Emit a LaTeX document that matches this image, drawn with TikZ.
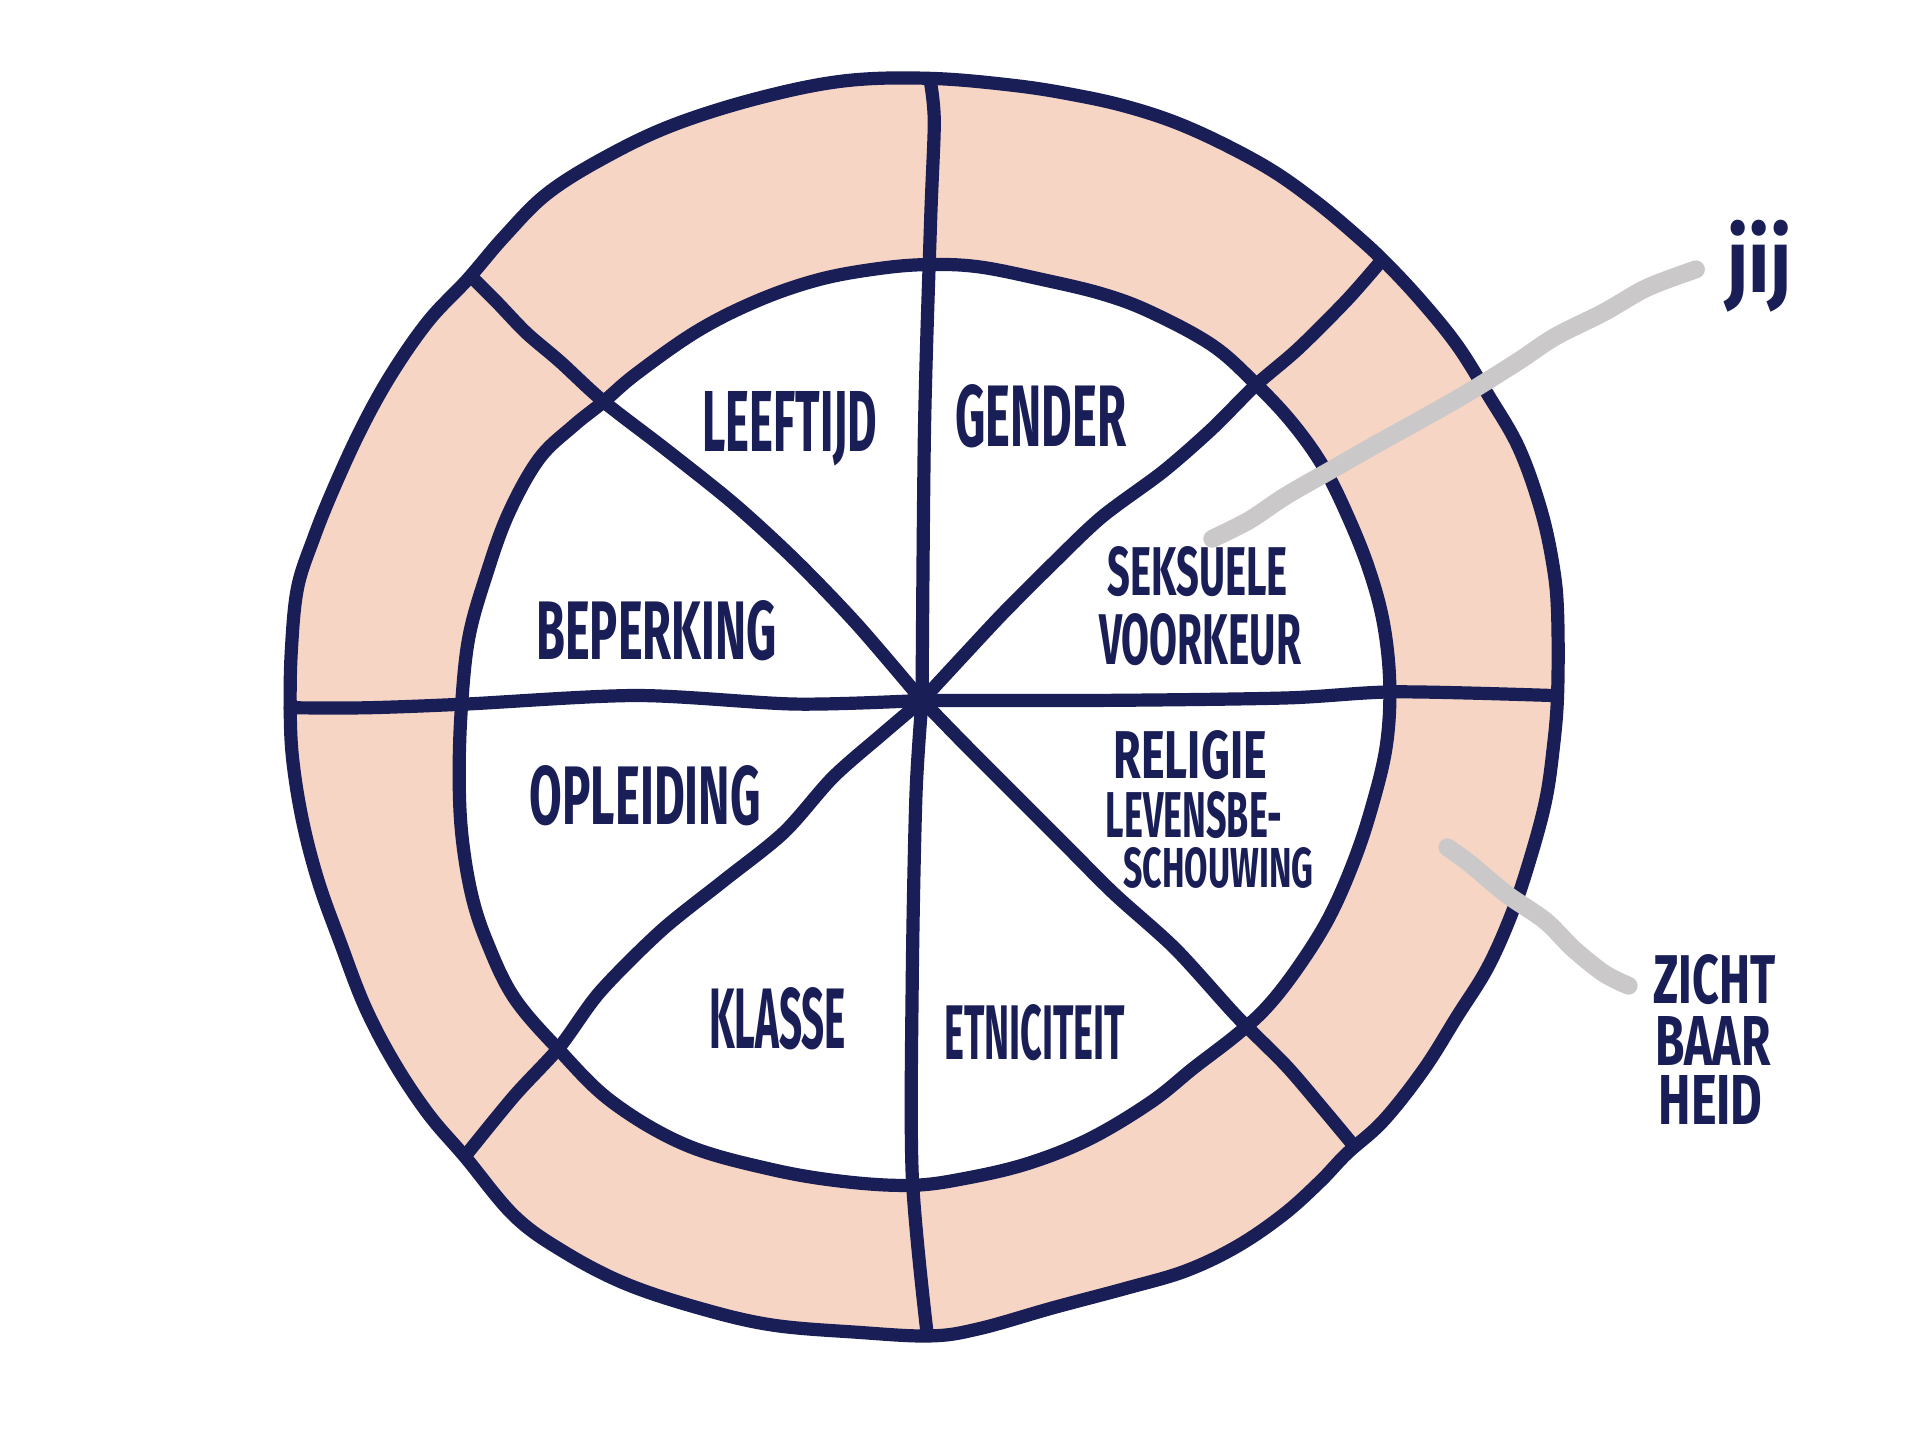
\documentclass[tikz,border=0pt]{standalone}
\usepackage{fontspec}
\usepackage{graphicx}
\setmainfont{Fira Sans}
\definecolor{navy}{RGB}{26,30,86}
\definecolor{peach}{RGB}{246,213,196}
\definecolor{pgray}{RGB}{202,200,200}
\newcommand\lbl[3]{\resizebox{#1pt}{#2pt}{\bfseries #3}}
\begin{document}
\begin{tikzpicture}[x=0.61225pt,y=-0.61225pt, line cap=round, line join=round,
  ink/.style={draw=navy, line width=6.6pt},
  pointer/.style={draw=pgray, line width=9pt},
  lab/.style={inner sep=0pt, text=navy}]
\useasboundingbox (0,0) rectangle (1568,1175.2);
% outer ring
\filldraw[fill=peach, ink] plot[smooth cycle, tension=0.6] coordinates {
 (760,64) (830,70) (880,78) (920,87) (960,100) (1000,118) (1040,140) (1075,165)
 (1105,190) (1130,213) (1160,245) (1190,282) (1215,322) (1240,365) (1258,415)
 (1268,460) (1272,500) (1272,568) (1268,615) (1262,655) (1250,700) (1235,745)
 (1215,790) (1190,830) (1163,873) (1130,915) (1100,942) (1078,965) (1048,992)
 (1010,1018) (968,1038) (920,1052) (860,1068) (800,1085) (760,1091) (700,1088)
 (630,1082) (570,1068) (510,1048) (460,1022) (420,993) (380,945) (350,910)
 (322,868) (298,822) (278,770) (260,720) (247,670) (239,620) (237,578) (238,530)
 (243,480) (256,440) (272,400) (295,350) (320,305) (350,262) (382,228) (412,193)
 (447,158) (495,128) (550,102) (620,80) (690,66)};
% inner disc
\filldraw[fill=white, ink] plot[smooth cycle, tension=0.6] coordinates {
 (760,216) (800,218) (850,228) (900,240) (940,255) (990,282) (1025,313) (1055,345)
 (1080,380) (1100,420) (1118,465) (1130,510) (1135,560) (1132,610) (1120,660)
 (1105,705) (1085,750) (1060,790) (1035,822) (1010,845) (975,872) (940,900)
 (890,930) (840,950) (790,962) (745,968) (690,965) (630,955) (560,935) (500,900)
 (457,858) (420,815) (398,770) (385,730) (377,680) (375,630) (377,575) (383,520)
 (397,470) (415,420) (440,375) (468,348) (493,328) (520,305) (570,270) (620,245)
 (670,228) (720,219)};
% spokes
\coordinate (hub) at (753,572);
\coordinate (sN) at (760,68);
\coordinate (sS) at (757,1088);
\coordinate (sW) at (237,578);
\coordinate (sE) at (1268,568);
\coordinate (sNW) at (385,226);
\coordinate (sSE) at (1105,935);
\coordinate (sNE) at (1128,213);
\coordinate (sSW) at (380,944);
\draw[ink] plot[smooth] coordinates {(sN) (763,100) (760,180) (755,350) (hub)};
\draw[ink] plot[smooth] coordinates {(hub) (748,650) (745,800) (745,960) (757,1088)};
\draw[ink] plot[smooth] coordinates {(sW) (300,578) (380,575) (520,568) (650,575) (hub)};
\draw[ink] plot[smooth] coordinates {(hub) (900,572) (1050,570) (1140,565) (sE)};
\draw[ink] plot[smooth] coordinates {(sNW) (406,247) (430,272) (457,295) (493,328) (545,368) (600,412) (650,458) (700,510) (hub)};
\draw[ink] plot[smooth] coordinates {(hub) (790,610) (830,650) (870,690) (910,730) (960,775) (1010,830) (1050,870) (1080,905) (sSE)};
\draw[ink] plot[smooth] coordinates {(sNE) (1100,245) (1060,285) (1025,315) (990,350) (950,385) (900,422) (860,460) (820,500) (790,532) (hub)};
\draw[ink] plot[smooth] coordinates {(hub) (720,600) (680,635) (640,680) (590,720) (540,760) (490,810) (457,855) (420,895) (sSW)};
% labels
\node[lab] (leeftijd) at (645,350) {\lbl{87.5}{30}{LEEFTIJD}};
\node[lab] (gender) at (850,340) {\lbl{85.5}{31}{GENDER}};
\node[lab] (seks) at (978,467) {\lbl{90}{24.5}{SEKSUELE}};
\node[lab] (voork) at (980,522) {\lbl{101}{25.5}{VOORKEUR}};
\node[lab] (beperking) at (536,515) {\lbl{120}{29.5}{BEPERKING}};
\node[lab] (opleiding) at (527,650) {\lbl{115.5}{29.5}{OPLEIDING}};
\node[lab] (religie) at (972,617) {\lbl{76.5}{24}{RELIGIE}};
\node[lab] (levens) at (975,666) {\lbl{88}{23}{LEVENSBE-}};
\node[lab] (schouw) at (995,709) {\lbl{95}{20}{SCHOUWING}};
\node[lab] (klasse) at (635,832) {\lbl{68.5}{30.5}{KLASSE}};
\node[lab] (etnic) at (845,843) {\lbl{90.5}{27.5}{ETNICITEIT}};
\node[lab] (jij) at (1437,217) {\resizebox*{32pt}{46pt}{\bfseries jij}};
\node[lab] (zicht) at (1400,800) {\lbl{61}{24.5}{ZICHT}};
\node[lab] (baar) at (1399,850) {\lbl{57.5}{24.5}{BAAR}};
\node[lab] (heid) at (1397,898) {\lbl{52}{24.5}{HEID}};
% pointers
\coordinate (pj) at (1385,220);
\coordinate (pjend) at (990,440);
\coordinate (pz) at (1330,805);
\coordinate (pzend) at (1182,692);
\draw[pointer] plot[smooth] coordinates {(pj) (1345,235) (1310,255) (1270,275) (1240,295) (1200,320) (1165,340) (1120,365) (1085,385) (1050,405) (1020,425) (pjend)};
\draw[pointer] plot[smooth] coordinates {(pz) (1310,795) (1285,775) (1262,752) (1230,730) (1200,705) (pzend)};
\end{tikzpicture}
\end{document}
